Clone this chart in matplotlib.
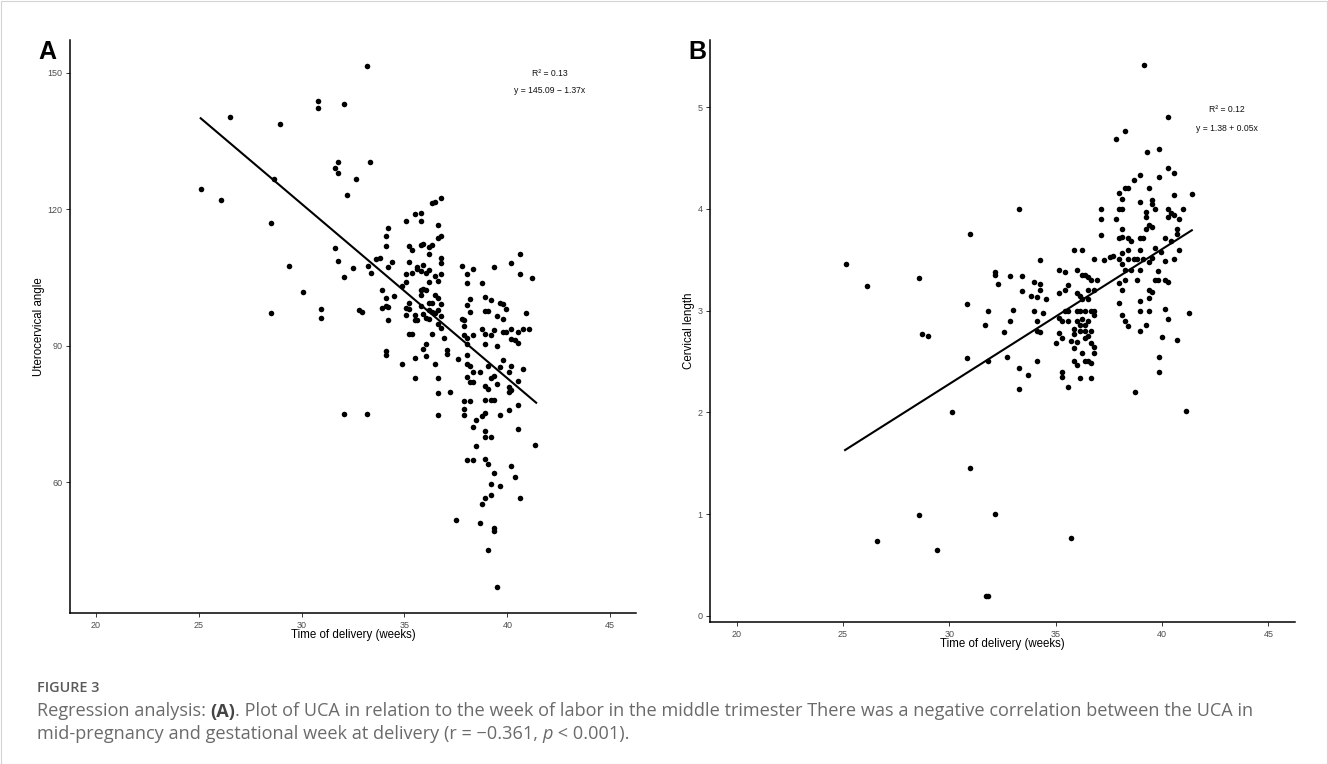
import matplotlib
matplotlib.use("Agg")
import matplotlib.pyplot as plt
from matplotlib.patches import Rectangle

# ---------------- data ----------------
# Panel A: uterocervical angle vs time of delivery
a_weeks = [25.1, 26.1, 26.5, 28.5, 28.5, 28.65, 28.96, 29.37, 30.08, 30.8, 30.8, 30.94, 30.94,
           31.63, 31.63, 31.78, 31.78, 31.78, 32.06, 32.06, 32.08, 32.2, 32.5, 32.65, 32.8, 32.94,
           33.2, 33.2, 33.24, 33.35, 33.37,
           33.6, 33.8, 33.9, 33.9, 34.1, 34.1, 34.1, 34.1, 34.1, 34.1, 34.2, 34.2, 34.2, 34.2, 34.4,
           34.5, 34.9, 34.9, 35.06, 35.06, 35.06, 35.06, 35.06, 35.2, 35.2, 35.2, 35.2, 35.2, 35.35,
           35.35, 35.35, 35.5, 35.5, 35.5, 35.5, 35.5, 35.63, 35.63, 35.63, 35.78, 35.78, 35.78,
           35.78, 35.78, 35.78, 35.78, 35.9, 35.9, 35.9, 35.9, 35.9, 36.06, 36.06, 36.06, 36.06,
           36.06, 36.2, 36.2, 36.2, 36.2, 36.2, 36.2, 36.2, 36.35, 36.35, 36.35, 36.35, 36.35, 36.5,
           36.5, 36.5, 36.5, 36.5, 36.63, 36.63, 36.63, 36.63, 36.63, 36.63, 36.63, 36.63, 36.63,
           36.78, 36.78, 36.78, 36.78, 36.78, 36.78, 36.78, 36.78, 36.9, 37.06, 37.06, 37.2, 37.6,
           37.5,
           37.78, 37.78, 37.9, 37.9, 37.9, 37.9, 37.9, 37.9, 38.06, 38.06, 38.06, 38.06, 38.06, 38.06,
           38.06, 38.06, 38.06, 38.2, 38.2, 38.2, 38.2, 38.2, 38.35, 38.35, 38.35, 38.35, 38.35,
           38.35, 38.5, 38.5, 38.65, 38.65, 38.78, 38.78, 38.78, 38.78, 38.9, 38.9, 38.9, 38.9, 38.9,
           38.9, 38.9, 38.9, 38.9, 38.9, 38.9, 39.06, 39.06, 39.06, 39.06, 39.06, 39.2, 39.2, 39.2,
           39.2, 39.2, 39.2, 39.2, 39.35, 39.35, 39.35, 39.35, 39.35, 39.35, 39.35, 39.5, 39.5, 39.5,
           39.5, 39.63, 39.63, 39.63, 39.63, 39.78, 39.78, 39.78, 39.78, 39.92, 39.92, 40.06, 40.06,
           40.06, 40.06, 40.2, 40.2, 40.2, 40.2, 40.2, 40.2, 40.35, 40.35, 40.5, 40.5, 40.5, 40.5,
           40.5, 40.63, 40.63, 40.63, 40.78, 40.78, 40.92, 41.06, 41.2, 41.35]
a_angle = [124.5, 122.0, 140.3, 117.1, 97.3, 126.7, 138.7, 107.5, 101.9, 143.9, 142.3, 98.1, 96.2,
           111.5, 129.0, 130.3, 128.0, 108.6, 143.1, 105.1, 75.0, 123.1, 107.0, 126.6, 97.8, 97.4,
           151.4, 75.1, 107.6, 130.5, 106.1,
           109.1, 109.4, 102.3, 98.4, 112.0, 114.1, 100.5, 98.8, 88.9, 88.0, 115.8, 107.3, 95.6, 98.6,
           108.4, 101.0, 103.1, 86.1, 117.4, 105.8, 104.0, 98.4, 96.8, 108.4, 112.0, 99.5, 98.1, 92.5,
           111.1, 106.1, 92.6, 119.0, 96.7, 95.6, 87.3, 82.9, 95.6, 107.3, 106.8, 119.2, 117.4, 112.1,
           106.4, 102.3, 101.2, 98.7, 112.3, 107.8, 102.4, 89.2, 97.0, 105.9, 102.2, 96.1, 90.4, 87.7,
           111.7, 110.1, 106.6, 104.1, 99.5, 97.9, 95.8, 112.1, 99.5, 97.4, 92.6, 121.3, 121.5, 105.4,
           101.2, 97.3, 86.0, 116.5, 113.8, 104.3, 100.5, 97.9, 94.8, 83.0, 79.6, 74.8, 122.5, 114.1,
           109.4, 108.3, 105.7, 99.3, 96.6, 94.0, 91.8, 89.0, 88.2, 79.9, 87.2, 51.8,
           107.5, 96.0, 95.6, 94.3, 92.3, 77.9, 76.1, 74.8, 105.7, 103.7, 98.9, 91.8, 90.4, 88.0, 86.0,
           83.2, 64.9, 100.4, 97.4, 85.6, 82.0, 77.9, 106.8, 92.3, 84.3, 82.0, 72.1, 64.9, 73.6, 68.1,
           84.3, 51.0, 103.7, 93.6, 74.5, 55.2, 100.8, 97.6, 92.5, 90.3, 81.2, 78.2, 75.2, 71.2, 70.0,
           65.2, 56.5, 97.6, 85.6, 80.6, 64.0, 45.2, 100.0, 92.3, 82.9, 78.2, 70.0, 59.6, 57.3, 107.3,
           93.4, 83.3, 78.0, 62.0, 50.0, 49.4, 96.6, 90.0, 81.7, 37.1, 99.4, 85.4, 74.9, 59.3, 99.2,
           96.0, 93.1, 86.9, 98.0, 93.1, 84.3, 76.0, 81.0, 79.8, 108.2, 93.6, 91.6, 85.6, 80.2, 63.7,
           91.3, 61.1, 93.1, 90.7, 82.3, 77.0, 71.8, 110.2, 105.8, 56.6, 93.6, 85.0, 97.3, 93.7, 105.0,
           68.2]

# Panel B: cervical length vs time of delivery
b_weeks = [25.14, 26.14, 26.58, 28.58, 28.58, 28.72, 29.0, 29.44, 30.12, 30.84, 30.84, 30.98, 30.98,
           31.7, 31.72, 31.84, 31.84, 31.84, 32.14, 32.14, 32.14, 32.28, 32.56, 32.7, 32.84, 32.84,
           33.0, 33.28, 33.28, 33.28, 33.42, 33.42, 33.7, 33.86, 34.0, 34.0, 34.14, 34.14, 34.14,
           34.14, 34.28, 34.28, 34.28, 34.28, 34.42, 34.56, 35.0, 35.14, 35.14, 35.14, 35.14, 35.28,
           35.28, 35.28, 35.28, 35.42, 35.42, 35.42, 35.56, 35.56, 35.56, 35.56, 35.7, 35.7, 35.84,
           35.84, 35.84, 35.84, 35.84, 35.98, 35.98, 35.98, 35.98, 35.98, 35.98, 36.12, 36.12, 36.12,
           36.12, 36.12, 36.26, 36.26, 36.26, 36.26, 36.26, 36.4, 36.4, 36.4, 36.4, 36.4, 36.4, 36.54,
           36.54, 36.54, 36.54, 36.54, 36.54, 36.68, 36.68, 36.68, 36.68, 36.68, 36.68, 36.82, 36.82,
           36.82, 36.82, 36.82, 36.82, 36.96, 37.14, 37.14, 37.14, 37.28, 37.56, 37.7, 37.84, 37.84,
           37.98, 37.98, 37.98, 37.98, 37.98, 37.98, 38.12, 38.12, 38.12, 38.12, 38.12, 38.12, 38.12,
           38.12, 38.26, 38.26, 38.26, 38.26, 38.26, 38.4, 38.4, 38.4, 38.4, 38.4, 38.54, 38.54,
           38.68, 38.68, 38.72, 38.82, 38.82, 38.96, 38.96, 38.96, 38.96, 38.96, 38.96, 38.96, 38.96,
           39.1, 39.1, 39.14, 39.24, 39.24, 39.24, 39.24, 39.28, 39.38, 39.38, 39.38, 39.38, 39.38,
           39.38, 39.52, 39.52, 39.52, 39.52, 39.52, 39.66, 39.66, 39.66, 39.8, 39.8, 39.84, 39.84,
           39.84, 39.84, 39.96, 40.0, 40.14, 40.14, 40.14, 40.14, 40.26, 40.26, 40.26, 40.26, 40.26,
           40.26, 40.4, 40.4, 40.54, 40.54, 40.54, 40.54, 40.68, 40.68, 40.72, 40.82, 40.82, 41.0,
           41.14, 41.28, 41.4]
b_length = [3.46, 3.24, 0.74, 3.32, 0.99, 2.77, 2.75, 0.65, 2.00, 3.07, 2.53, 3.75, 1.45,
            2.86, 0.20, 0.20, 3.00, 2.51, 3.38, 3.35, 1.00, 3.26, 2.79, 2.54, 3.34, 2.90,
            3.01, 4.00, 2.44, 2.23, 3.34, 3.19, 2.37, 3.14, 3.28, 3.00, 3.13, 2.90, 2.80,
            2.51, 3.50, 3.26, 3.20, 2.79, 2.98, 3.11, 2.68, 3.40, 3.17, 2.93, 2.78, 2.40,
            2.35, 2.90, 2.73, 3.20, 3.00, 3.38, 3.25, 3.00, 2.25, 2.90, 2.70, 0.77, 3.60,
            2.82, 2.63, 2.51, 2.77, 3.40, 3.17, 3.00, 2.90, 2.69, 2.47, 3.14, 3.00, 2.86,
            2.80, 2.34, 3.60, 3.35, 3.11, 2.92, 2.58, 3.35, 3.00, 2.86, 2.80, 2.73, 2.51, 3.33,
            3.20, 3.11, 2.90, 2.75, 2.51, 3.30, 3.00, 2.80, 2.68, 2.49, 2.34, 3.51, 3.20,
            3.00, 2.96, 2.64, 2.58, 3.30, 4.00, 3.90, 3.74, 3.50, 3.53, 3.54, 4.69, 3.90,
            4.16, 4.00, 3.71, 3.51, 3.27, 3.08, 4.10, 4.00, 3.80, 3.72, 3.57, 3.46, 3.20,
            2.96, 4.77, 4.21, 3.40, 3.30, 2.90, 4.21, 3.71, 3.60, 3.51, 2.85, 3.68, 3.40,
            4.28, 3.51, 2.20, 3.30, 3.51, 4.33, 4.07, 3.71, 3.60, 3.40, 3.09, 3.00, 2.80,
            3.71, 3.51, 5.41, 3.97, 3.92, 3.80, 2.86, 4.56, 4.21, 3.84, 3.48, 3.20, 3.00,
            3.12, 4.09, 4.05, 3.82, 3.52, 3.18, 4.00, 3.62, 3.30, 3.39, 3.30, 4.31, 4.59,
            2.54, 2.40, 3.58, 2.74, 3.71, 3.49, 3.30, 3.02, 4.90, 4.40, 4.00, 3.92, 3.28,
            2.92, 3.96, 3.68, 4.35, 4.14, 3.94, 3.51, 3.75, 2.71, 3.80, 3.60, 3.90, 4.00,
            2.01, 2.98, 4.15]

# fitted regression lines (end points as drawn)
fit_weeks = [25.1, 41.4]
a_fit = [140.0, 77.5]
b_fit = [1.63, 3.79]

x_ticks = [20, 25, 30, 35, 40, 45]
a_yticks = [60, 90, 120, 150]
b_yticks = [0, 1, 2, 3, 4, 5]

# ---------------- figure ----------------
W, H = 1328, 764
fig = plt.figure(figsize=(W / 100, H / 100), dpi=100)
fig.patch.set_facecolor("white")
fig.add_artist(Rectangle((0.5 / W, 0.5 / H), 1 - 1.5 / W, 1 - 1.5 / H, transform=fig.transFigure,
                         fill=False, edgecolor="#d4d4d4", lw=0.8))

SANS = ["Liberation Sans", "DejaVu Sans"]


def px_axes(l, t, r, b):
    return fig.add_axes([l / W, 1 - b / H, (r - l) / W, (b - t) / H])


def style(ax, yticks, ylabel, ylim, label_x):
    ax.set_xlim(18.75, 46.25)
    ax.set_ylim(*ylim)
    ax.set_xticks(x_ticks)
    ax.set_yticks(yticks)
    for s in ["top", "right"]:
        ax.spines[s].set_visible(False)
    for s in ["left", "bottom"]:
        ax.spines[s].set_linewidth(1.1)
        ax.spines[s].set_color("black")
    ax.tick_params(length=3, width=0.7, color="#333333", pad=2.5,
                   labelsize=6.5, labelcolor="#4d4d4d")
    for lab in ax.get_xticklabels() + ax.get_yticklabels():
        lab.set_family(SANS)
    ax.set_xlabel("Time of delivery (weeks)", fontsize=8.3, family=SANS)
    ax.set_ylabel(ylabel, fontsize=8.3, family=SANS)
    ax.xaxis.set_label_coords(0.5, -0.028)
    ax.yaxis.set_label_coords(label_x, 0.5)
    ax.set_facecolor("white")


# Panel A
axA = px_axes(70, 40, 636, 613)
axA.scatter(a_weeks, a_angle, s=16, color="black", linewidths=0, zorder=3)
axA.plot(fit_weeks, a_fit, color="black", lw=1.5, zorder=4)
style(axA, a_yticks, "Uterocervical angle", (31.3, 157.2), -0.044)
axA.text(0.847, 0.942, "R² = 0.13", transform=axA.transAxes, ha="center", va="center",
         fontsize=6.2, family=SANS, color="#111111")
axA.text(0.847, 0.912, "y = 145.09 − 1.37x", transform=axA.transAxes, ha="center", va="center",
         fontsize=6.2, family=SANS, color="#111111")

# Panel B
axB = px_axes(710, 40, 1295, 622)
axB.scatter(b_weeks, b_length, s=16, color="black", linewidths=0, zorder=3)
axB.plot(fit_weeks, b_fit, color="black", lw=1.5, zorder=4)
style(axB, b_yticks, "Cervical length", (-0.06, 5.66), -0.026)
axB.text(0.884, 0.88, "R² = 0.12", transform=axB.transAxes, ha="center", va="center",
         fontsize=6.2, family=SANS, color="#111111")
axB.text(0.884, 0.848, "y = 1.38 + 0.05x", transform=axB.transAxes, ha="center", va="center",
         fontsize=6.2, family=SANS, color="#111111")

# panel letters
fig.text(38 / W, 1 - 40 / H, "A", fontsize=18, fontweight="bold", family=SANS, va="top", ha="left")
fig.text(688 / W, 1 - 40 / H, "B", fontsize=18, fontweight="bold", family=SANS, va="top", ha="left")

# ---------------- caption ----------------
CAP = ["Open Sans", "DejaVu Sans"]
cap_color = "#6a6a6a"
CAP_LEFT = 36.7

fig.canvas.draw()
renderer = fig.canvas.get_renderer()

fig_title = fig.text(CAP_LEFT / W, 1 - 692 / H, "FIGURE 3", fontsize=10, color="#5a5a5a",
                     family=CAP, fontweight="semibold", va="baseline", ha="left")
tw = fig_title.get_window_extent(renderer).width
fig_title.set_fontsize(10 * 62.6 / tw)

line1 = [("Regression analysis: ", {}), ("(A)", {"fontweight": "bold", "color": "#444444"}),
         (". Plot of UCA in relation to the week of labor in the middle trimester There was a "
          "negative correlation between the UCA in", {})]
line2 = [("mid-pregnancy and gestational week at delivery (r = −0.361, ", {}),
         ("p", {"fontstyle": "italic"}), (" < 0.001).", {})]


def rich_line(x0, y_base, pieces, size):
    x = x0
    for txt, kw in pieces:
        opts = dict(fontsize=size, color=cap_color, family=CAP, va="baseline", ha="left")
        opts.update(kw)
        t = fig.text(x / W, 1 - y_base / H, txt, **opts)
        x += t.get_window_extent(renderer).width
    return x


def line_width(pieces, size):
    total = 0
    for txt, kw in pieces:
        opts = dict(fontsize=size, family=CAP)
        opts.update({k: v for k, v in kw.items() if k != "color"})
        t = fig.text(0, 0, txt, **opts)
        total += t.get_window_extent(renderer).width
        t.remove()
    return total


base = 12.0
cap_size = base * (1252 - CAP_LEFT) / line_width(line1, base)
rich_line(CAP_LEFT, 716.5, line1, cap_size)
rich_line(CAP_LEFT, 739, line2, cap_size)

fig.savefig("out.png", dpi=100)
